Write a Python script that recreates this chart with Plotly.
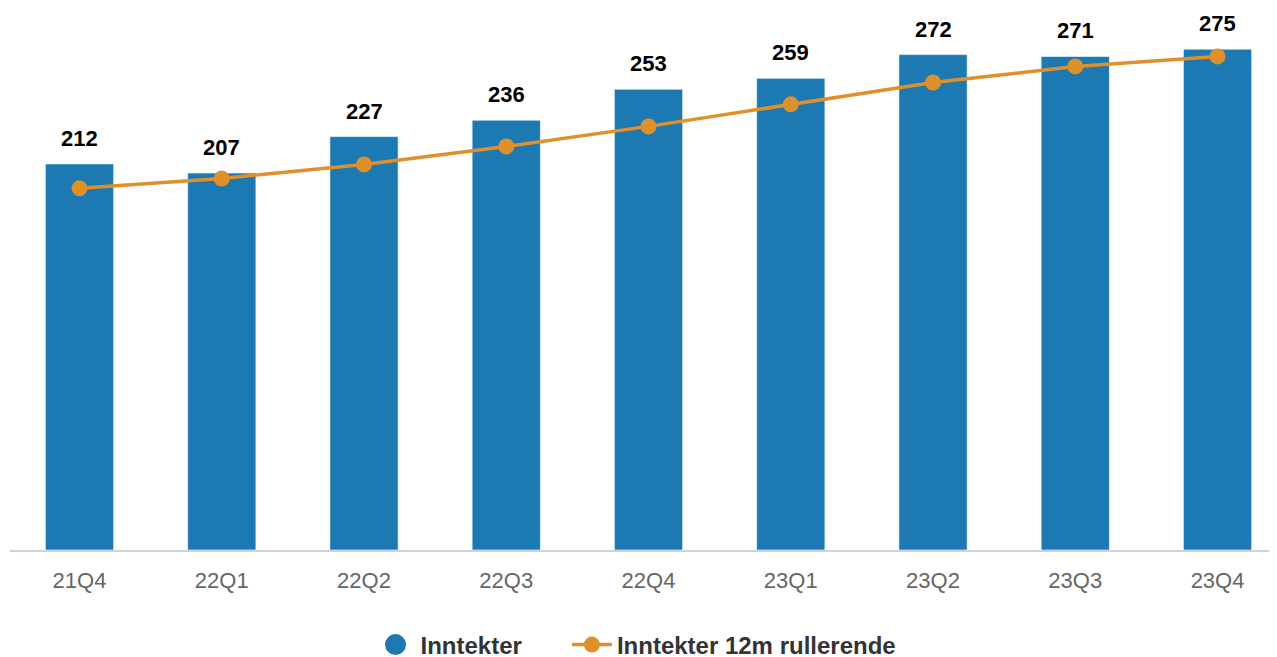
import plotly.graph_objects as go

categories = ["21Q4", "22Q1", "22Q2", "22Q3", "22Q4", "23Q1", "23Q2", "23Q3", "23Q4"]
inntekter = [212, 207, 227, 236, 253, 259, 272, 271, 275]
rullerende = [198.6, 204.0, 211.7, 221.6, 232.6, 244.7, 256.7, 265.5, 271.0]

BAR_COLOR = "#1C79B2"
LINE_COLOR = "#E0902A"
FONT = "Liberation Sans, Arial, sans-serif"

fig = go.Figure()
fig.add_trace(go.Bar(
    x=categories, y=inntekter, name="Inntekter",
    marker=dict(color=BAR_COLOR, line=dict(color="rgba(255,255,255,0.6)", width=1)),
    width=0.48, showlegend=False,
))
# legend proxy with circle symbol
fig.add_trace(go.Scatter(
    x=[None], y=[None], mode="markers", name="<b>Inntekter</b>" + "\u00a0" * 6,
    marker=dict(color=BAR_COLOR, size=24, symbol="circle",
                line=dict(color=BAR_COLOR, width=5)),
))
fig.add_trace(go.Scatter(
    x=categories, y=rullerende, name="<b>Inntekter 12m rullerende</b>",
    mode="lines+markers",
    line=dict(color=LINE_COLOR, width=3.5),
    marker=dict(color=LINE_COLOR, size=16),
))

for c, v in zip(categories, inntekter):
    fig.add_annotation(x=c, y=v, text=f"<b>{v}</b>", showarrow=False,
                       yanchor="bottom", yshift=11,
                       font=dict(family=FONT, size=22, color="#000000"))

fig.update_layout(
    width=1269, height=649,
    margin=dict(l=2, r=0, t=2, b=106.5),
    plot_bgcolor="white", paper_bgcolor="white",
    font=dict(family=FONT),
    showlegend=True,
    legend=dict(orientation="h", x=0.4941, xanchor="center",
                yref="container", y=(649 - 637) / 649, yanchor="middle",
                font=dict(family=FONT, size=24, color="#333333"),
                itemwidth=40, tracegroupgap=0),
)
fig.update_xaxes(
    type="category", range=[-0.4886, 8.418],
    showline=True, linecolor="#C9D3E3", linewidth=2,
    ticks="outside", ticklen=10, tickcolor="rgba(0,0,0,0)",
    tickfont=dict(family=FONT, size=22, color="#666666"),
    showgrid=False,
)
fig.update_yaxes(range=[0, 296.5], visible=False, showgrid=False, zeroline=False)

fig.write_html("out.html")
